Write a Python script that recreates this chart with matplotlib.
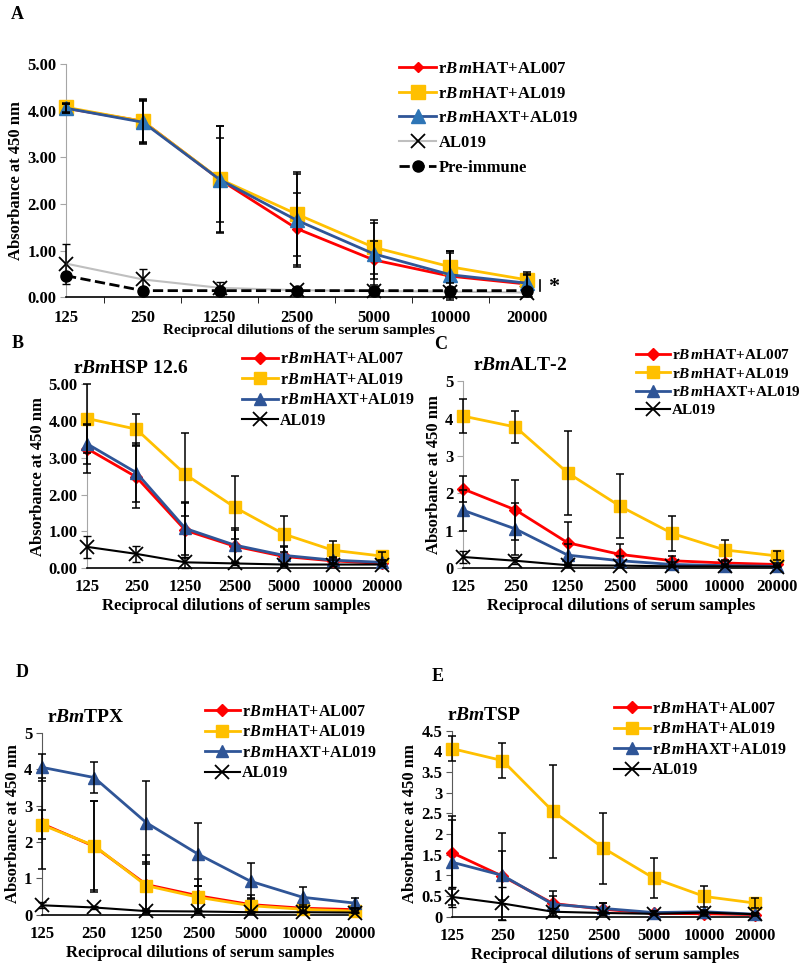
import matplotlib
matplotlib.use("Agg")
from matplotlib import pyplot as plt
from matplotlib.ticker import FormatStrFormatter, FixedLocator
import numpy as np

plt.rcParams['font.family'] = 'Liberation Serif'
plt.rcParams['font.weight'] = 'bold'
plt.rcParams['mathtext.fontset'] = 'custom'
plt.rcParams['mathtext.it'] = 'Liberation Serif:italic:bold'
plt.rcParams['mathtext.rm'] = 'Liberation Serif:bold'

dilutions = ['125', '250', '1250', '2500', '5000', '10000', '20000']

# panel A
a_hat007 = [4.05, 3.77, 2.52, 1.47, 0.80, 0.45, 0.28]
a_hat007_err = [0.10, 0.45, 0.90, 0.77, 0.40, 0.50, 0.20]
a_hat019 = [4.07, 3.77, 2.53, 1.78, 1.07, 0.65, 0.37]
a_hat019_err = [0.10, 0.48, 1.14, 0.90, 0.58, 0.35, 0.18]
a_haxt019 = [4.05, 3.75, 2.52, 1.65, 0.93, 0.48, 0.30]
a_haxt019_err = [0.10, 0.45, 1.15, 1.00, 0.67, 0.50, 0.20]
a_al019 = [0.72, 0.38, 0.20, 0.15, 0.13, 0.12, 0.10]
a_al019_err = [0.43, 0.22, 0.13, 0.05, 0.05, 0.04, 0.04]
a_pre = [0.46, 0.14, 0.14, 0.14, 0.14, 0.14, 0.14]

# panel B  rBmHSP 12.6
b_hat007 = [3.25, 2.48, 1.03, 0.60, 0.32, 0.20, 0.13]
b_hat007_err = [0.65, 0.85, 0.75, 0.45, 0.25, 0.08, 0.05]
b_hat019 = [4.07, 3.78, 2.55, 1.66, 0.93, 0.49, 0.33]
b_hat019_err = [0.93, 0.42, 1.12, 0.86, 0.48, 0.26, 0.12]
b_haxt019 = [3.38, 2.60, 1.08, 0.63, 0.35, 0.22, 0.16]
b_haxt019_err = [0.55, 0.80, 0.72, 0.45, 0.25, 0.08, 0.05]
b_al019 = [0.58, 0.39, 0.16, 0.13, 0.10, 0.10, 0.10]
b_al019_err = [0.30, 0.21, 0.15, 0.05, 0.03, 0.03, 0.03]

# panel C  rBmALT-2
c_hat007 = [2.12, 1.56, 0.68, 0.37, 0.20, 0.14, 0.10]
c_hat007_err = [0.35, 0.80, 0.55, 0.28, 0.12, 0.05, 0.04]
c_hat019 = [4.07, 3.78, 2.55, 1.66, 0.93, 0.49, 0.33]
c_hat019_err = [0.45, 0.42, 1.12, 0.86, 0.48, 0.26, 0.12]
c_haxt019 = [1.55, 1.05, 0.35, 0.20, 0.10, 0.07, 0.05]
c_haxt019_err = [0.55, 0.70, 0.30, 0.12, 0.06, 0.04, 0.03]
c_al019 = [0.30, 0.20, 0.08, 0.07, 0.05, 0.05, 0.04]
c_al019_err = [0.15, 0.10, 0.04, 0.03, 0.02, 0.02, 0.02]

# panel D  rBmTPX
d_hat007 = [2.50, 1.88, 0.83, 0.52, 0.28, 0.18, 0.14]
d_hat007_err = [1.25, 1.25, 0.80, 0.47, 0.25, 0.08, 0.05]
d_hat019 = [2.47, 1.90, 0.80, 0.48, 0.25, 0.15, 0.10]
d_hat019_err = [0.40, 1.22, 0.65, 0.32, 0.20, 0.07, 0.05]
d_haxt019 = [4.05, 3.77, 2.53, 1.66, 0.92, 0.48, 0.32]
d_haxt019_err = [0.38, 0.43, 1.14, 0.86, 0.49, 0.27, 0.13]
d_al019 = [0.26, 0.20, 0.10, 0.09, 0.07, 0.07, 0.06]
d_al019_err = [0.08, 0.05, 0.03, 0.03, 0.02, 0.02, 0.02]

# panel E  rBmTSP
e_hat007 = [1.55, 0.98, 0.32, 0.18, 0.08, 0.07, 0.05]
e_hat007_err = [0.88, 1.05, 0.30, 0.15, 0.05, 0.05, 0.03]
e_hat019 = [4.07, 3.78, 2.55, 1.66, 0.93, 0.49, 0.33]
e_hat019_err = [0.30, 0.42, 1.12, 0.86, 0.48, 0.26, 0.12]
e_haxt019 = [1.32, 1.00, 0.30, 0.20, 0.10, 0.12, 0.06]
e_haxt019_err = [1.03, 0.60, 0.20, 0.12, 0.05, 0.05, 0.03]
e_al019 = [0.48, 0.32, 0.12, 0.09, 0.07, 0.10, 0.06]
e_al019_err = [0.25, 0.40, 0.10, 0.05, 0.03, 0.03, 0.02]

RED = '#FF0000'
YEL = '#FFC000'
BLUE = '#2F5597'
lab007 = r'r$\mathit{B\,m}$HAT+AL007'
lab019 = r'r$\mathit{B\,m}$HAT+AL019'
labx = r'r$\mathit{B\,m}$HAXT+AL019'

x = np.arange(len(dilutions))

fig = plt.figure(figsize=(8, 9.68), dpi=100)


def style_axes(ax, ymax, yticks, fmt, spine_col):
    ax.set_xlim(0, 6.06)
    ax.set_ylim(0, ymax)
    ax.set_xticks(x)
    ax.set_xticklabels(dilutions)
    ax.set_yticks(yticks)
    ax.yaxis.set_major_formatter(FormatStrFormatter(fmt))
    ax.spines['top'].set_visible(False)
    ax.spines['right'].set_visible(False)
    ax.spines['left'].set_color(spine_col)
    ax.spines['bottom'].set_color('black')
    ax.spines['bottom'].set_linewidth(1.2)
    ax.tick_params(axis='x', length=0, labelsize=12, pad=8)
    ax.tick_params(axis='y', length=4, color=spine_col, labelsize=12, pad=3)
    for t in ax.get_xticklabels() + ax.get_yticklabels():
        t.set_fontweight('bold')
    ax.set_ylabel('Absorbance at 450 nm', fontsize=12, fontweight='bold', labelpad=2)


def plot_series(ax, y, err, color, marker, ms, label, mcol=None):
    mcol = mcol if mcol else color
    ax.plot(x, y, '-', color=color, marker=marker, markersize=ms, lw=2,
            markerfacecolor=mcol, markeredgecolor=mcol, label=label,
            clip_on=False, zorder=3)
    ax.errorbar(x, y, yerr=err, fmt='none', ecolor='black', elinewidth=1.1,
                capsize=3, capthick=1.1, zorder=4, clip_on=False)


def add_legend(ax, bx, by, fs, spacing):
    ax.legend(loc='upper left', bbox_to_anchor=(bx, by), bbox_transform=fig.transFigure,
              frameon=False, handlelength=2.2, handletextpad=0.15,
              labelspacing=spacing, borderpad=0, borderaxespad=0,
              prop={'weight': 'bold', 'size': fs})


# ---- A ----
axA = fig.add_axes([0.0825, 0.693, 0.5825, 0.241])
plot_series(axA, a_hat007, a_hat007_err, RED, 'D', 5, lab007)
plot_series(axA, a_hat019, a_hat019_err, YEL, 's', 10, lab019)
plot_series(axA, a_haxt019, a_haxt019_err, '#2F5597', '^', 10, labx, mcol='#2E75B6')
axA.plot(x, a_al019, '-', color='#BFBFBF', lw=1.5, marker='x', markersize=10,
         markeredgecolor='black', markeredgewidth=1.3, label='AL019', clip_on=False, zorder=2)
axA.errorbar(x, a_al019, yerr=a_al019_err, fmt='none', ecolor='black', elinewidth=1.1,
             capsize=3, zorder=4, clip_on=False)
axA.plot(x, a_pre, '--', color='black', lw=2, marker='o', markersize=8,
         label='Pre-immune', clip_on=False, zorder=3)
style_axes(axA, 5, [0, 1, 2, 3, 4, 5], '%.2f', '#A6A6A6')
axA.xaxis.set_minor_locator(FixedLocator(np.arange(0.5, 6, 1)))
axA.tick_params(axis='x', which='minor', length=4, color='black')
axA.tick_params(axis='x', which='major', pad=9)
axA.set_xlabel('Reciprocal dilutions of the serum samples', fontsize=11,
               fontweight='bold', labelpad=-1)
add_legend(axA, 0.499, 0.937, 12, 0.52)
axA.plot([6.17, 6.17], [0.13, 0.37], color='black', lw=1.2, clip_on=False)
axA.text(6.27, 0.22, '*', fontsize=16, fontweight='bold', va='center')
fig.text(0.014, 0.985, 'A', fontsize=13, fontweight='bold', va='center')

# ---- B, C, D, E ----
panels = [
    ('B', [0.109, 0.413, 0.372, 0.190], 5, [0, 1, 2, 3, 4, 5], '%.2f', '#A6A6A6',
     b_hat007, b_hat007_err, b_hat019, b_hat019_err, b_haxt019, b_haxt019_err,
     b_al019, b_al019_err, r'r$\mathit{Bm}$HSP 12.6', -0.047,
     (0.014, 0.645), (0.303, 0.637), 11.5),
    ('C', [0.579, 0.413, 0.396, 0.193], 5, [0, 1, 2, 3, 4, 5], '%d', '#A6A6A6',
     c_hat007, c_hat007_err, c_hat019, c_hat019_err, c_haxt019, c_haxt019_err,
     c_al019, c_al019_err, r'r$\mathit{Bm}$ALT-2', 0.03,
     (0.543, 0.644), (0.795, 0.640), 11),
    ('D', [0.0525, 0.055, 0.395, 0.188], 5, [0, 1, 2, 3, 4, 5], '%d', '#595959',
     d_hat007, d_hat007_err, d_hat019, d_hat019_err, d_haxt019, d_haxt019_err,
     d_al019, d_al019_err, r'r$\mathit{Bm}$TPX', 0.016,
     (0.020, 0.305), (0.256, 0.273), 11.5),
    ('E', [0.565, 0.053, 0.3825, 0.192], 4.5, np.arange(0, 4.51, 0.5), '%g', '#595959',
     e_hat007, e_hat007_err, e_hat019, e_hat019_err, e_haxt019, e_haxt019_err,
     e_al019, e_al019_err, r'r$\mathit{Bm}$TSP', -0.016,
     (0.539, 0.301), (0.768, 0.276), 11.5),
]

for (letter, rect, ymax, yt, fmt, scol, h7, h7e, h19, h19e, hx, hxe, al, ale,
     title, tx, lpos, legpos, lfs) in panels:
    ax = fig.add_axes(rect)
    plot_series(ax, h7, h7e, RED, 'D', 6, lab007)
    plot_series(ax, h19, h19e, YEL, 's', 9, lab019)
    plot_series(ax, hx, hxe, BLUE, '^', 8, labx)
    ax.plot(x, al, '-', color='black', lw=1.5, marker='x', markersize=10,
            markeredgewidth=1.3, label='AL019', clip_on=False, zorder=3)
    ax.errorbar(x, al, yerr=ale, fmt='none', ecolor='black', elinewidth=1.1,
                capsize=3, zorder=4, clip_on=False)
    style_axes(ax, ymax, yt, fmt, scol)
    ax.set_xlabel('Reciprocal dilutions of serum samples', fontsize=12,
                  fontweight='bold', labelpad=2)
    ax.text(tx, 1.06, title, transform=ax.transAxes, fontsize=14, fontweight='bold')
    add_legend(ax, legpos[0], legpos[1], lfs, 0.28)
    fig.text(lpos[0], lpos[1], letter, fontsize=13, fontweight='bold', va='center')

fig.savefig('out.png', dpi=100)
